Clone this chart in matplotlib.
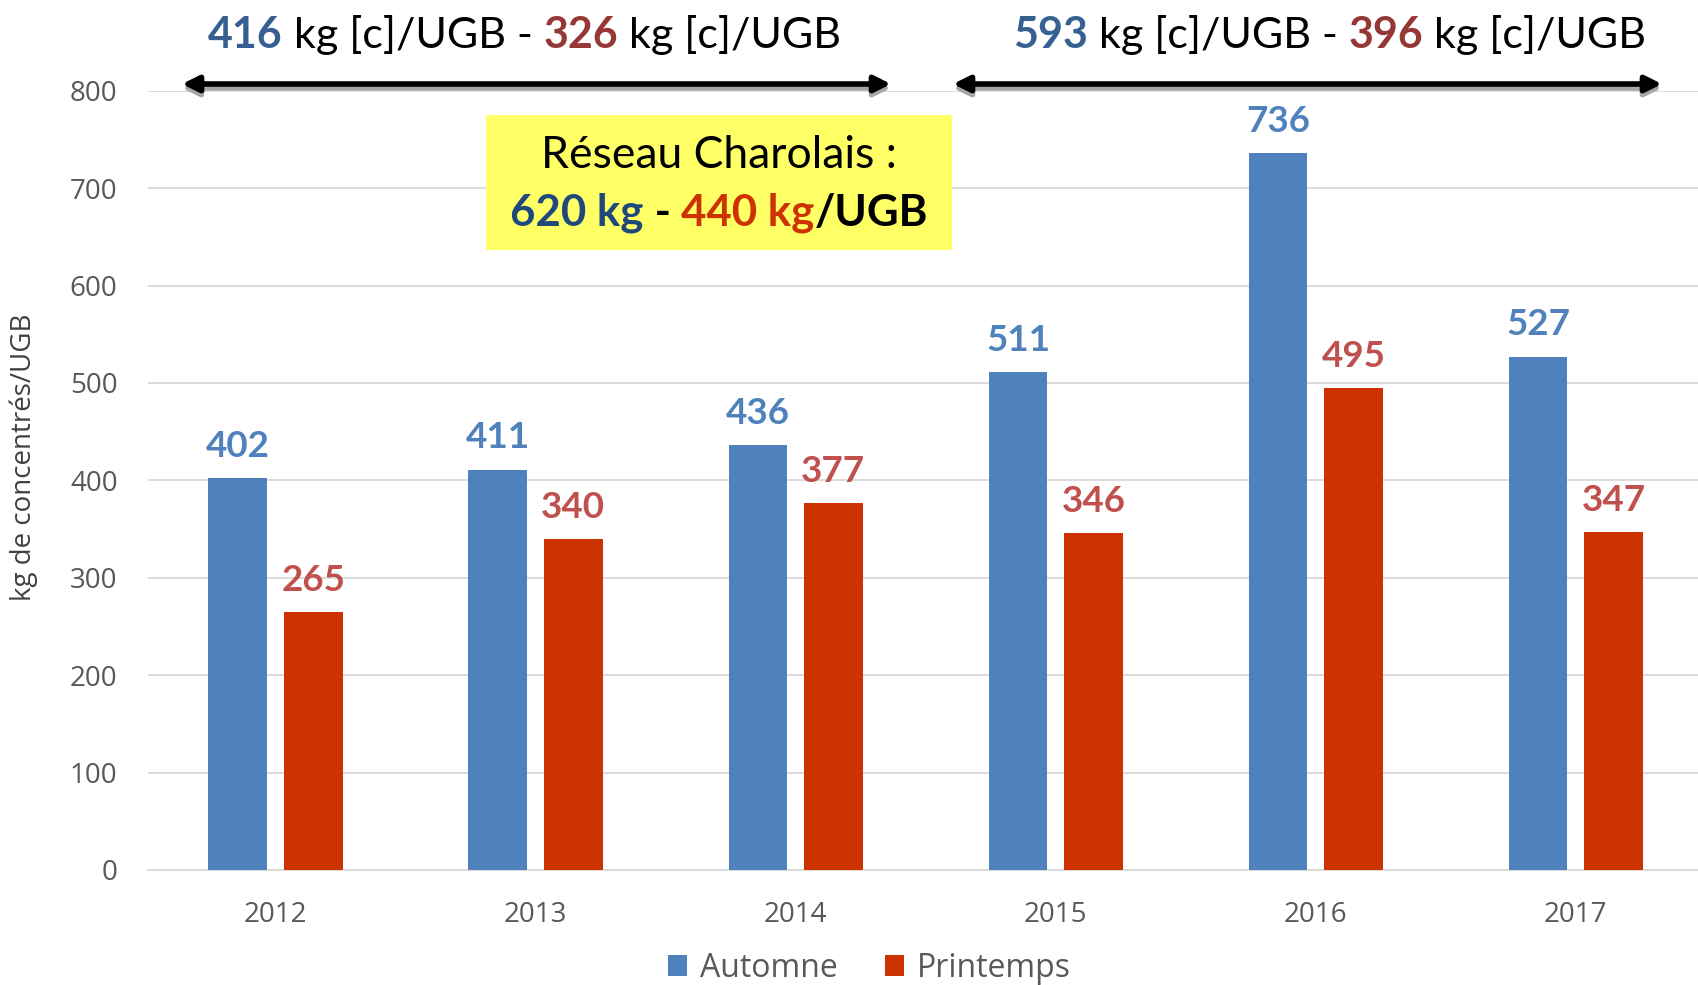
import matplotlib
matplotlib.use('Agg')
import matplotlib.pyplot as plt
import numpy as np
from matplotlib.offsetbox import TextArea, HPacker, VPacker, AnnotationBbox
from matplotlib.patches import Rectangle

years = ['2012', '2013', '2014', '2015', '2016', '2017']
automne = [402, 411, 436, 511, 736, 527]
printemps = [265, 340, 377, 346, 495, 347]

# moyennes par periode : (automne, printemps)
period_means = [(416, 326), (593, 396)]
reseau = (620, 440)

BLUE = '#4F81BD'
RED = '#CC3300'
RED_LABEL = '#C0504D'
DARK_BLUE = '#376092'
DARK_RED = '#953735'

plt.rcParams['font.family'] = ['Open Sans', 'DejaVu Sans']

fig = plt.figure(figsize=(16.98, 9.85), dpi=100)
ax = fig.add_axes([0.0872, 0.1168, 0.9128, 0.791])

x = np.arange(len(years))
width = 0.226
off = 0.145
b1 = ax.bar(x - off, automne, width, color=BLUE, label='Automne', zorder=3)
b2 = ax.bar(x + off, printemps, width, color=RED, label='Printemps', zorder=3)

for bars, vals, col in ((b1, automne, BLUE), (b2, printemps, RED_LABEL)):
    for bar, v in zip(bars, vals):
        ax.annotate(str(v), (bar.get_x() + bar.get_width() / 2, v),
                    xytext=(0, 11), textcoords='offset points',
                    ha='center', va='bottom', fontsize=26.5, fontweight='bold',
                    color=col, family='Lato', zorder=4)

ax.set_xlim(-0.49, 5.47)
ax.set_ylim(0, 800)
ax.set_yticks(range(0, 801, 100))
ax.set_xticks(x)
ax.set_xticklabels(years)
ax.tick_params(axis='both', length=0, colors='#595959', labelsize=20)
ax.tick_params(axis='x', pad=22)
ax.tick_params(axis='y', pad=22)
ax.grid(axis='y', color='#D9D9D9', linewidth=1.3, zorder=0)
for s in ('top', 'right', 'left'):
    ax.spines[s].set_visible(False)
ax.spines['bottom'].set_color('#D9D9D9')
ax.spines['bottom'].set_linewidth(1.3)
ax.set_ylabel('kg de concentrés/UGB', fontsize=20, color='#404040')
ax.yaxis.set_label_coords(-0.071, 0.53)

fig.legend(handles=[b1, b2], loc='center', bbox_to_anchor=(0.512, 0.017),
           ncol=2, frameon=False, fontsize=23, labelcolor='#595959',
           handlelength=0.6, handleheight=0.6, handletextpad=0.4,
           columnspacing=1.5)


def colored_line(parts, size):
    areas = [TextArea(t, textprops=dict(color=c, fontsize=size, fontweight=w,
                                        family='Lato'))
             for t, c, w in parts]
    return HPacker(children=areas, pad=0, sep=0, align='baseline')


# moyennes au dessus des fleches
for (a, p), cx in zip(period_means, (0.309, 0.783)):
    line = colored_line([(str(a), DARK_BLUE, 'bold'),
                         (' kg [c]/UGB - ', 'black', 'normal'),
                         (str(p), DARK_RED, 'bold'),
                         (' kg [c]/UGB', 'black', 'normal')], 31)
    fig.add_artist(AnnotationBbox(line, (cx, 0.964), xycoords='figure fraction',
                                  frameon=False, box_alignment=(0.5, 0.5)))

# fleches doubles avec ombre
for x0, x1 in ((182, 891), (953, 1662)):
    y = 985 - 84
    for dy, col in ((-4, '#A6A6A6'), (0, 'black')):
        ax.annotate('', xy=(x1 / 1698, (y + dy) / 985),
                    xytext=(x0 / 1698, (y + dy) / 985),
                    xycoords='figure fraction',
                    arrowprops=dict(arrowstyle='<|-|>', color=col, lw=4,
                                    mutation_scale=24, shrinkA=0, shrinkB=0),
                    annotation_clip=False)

# encadre reseau charolais
fig.add_artist(Rectangle((486 / 1698, 1 - 250 / 985), 466 / 1698, 135 / 985,
                         transform=fig.transFigure, facecolor='#FFFF66',
                         edgecolor='none', zorder=5))
l1 = TextArea('Réseau Charolais :', textprops=dict(color='black', fontsize=32,
                                                    family='Lato'))
l2 = colored_line([('%d kg' % reseau[0], '#1F497D', 'bold'),
                   (' - ', 'black', 'bold'),
                   ('%d kg' % reseau[1], RED, 'bold'),
                   ('/UGB', 'black', 'bold')], 31.5)
box = VPacker(children=[l1, l2], pad=0, sep=12, align='center')
ab = AnnotationBbox(box, (719 / 1698, 1 - 184 / 985), xycoords='figure fraction',
                    frameon=False, box_alignment=(0.5, 0.5))
ab.set_zorder(6)
fig.add_artist(ab)

fig.savefig('out.png', dpi=100)
